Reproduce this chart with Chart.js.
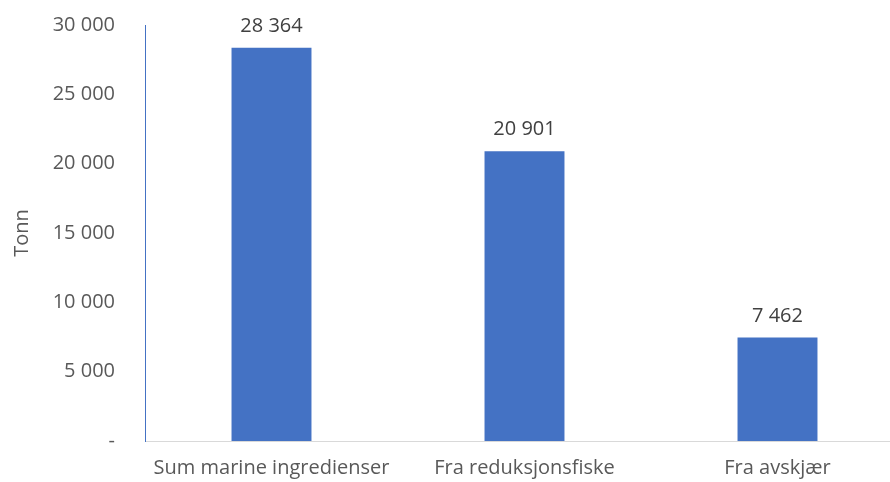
<!DOCTYPE html>
<html>
<head>
<meta charset="utf-8">
<script src="https://cdn.jsdelivr.net/npm/chart.js@4"></script>
<style>
  html, body { margin: 0; padding: 0; background: #fff; overflow: hidden; }
</style>
</head>
<body>
<canvas id="tonnChart" width="905" height="482"></canvas>
<script>
const categories = ["Sum marine ingredienser", "Fra reduksjonsfiske", "Fra avskjær"];
const tonnes = [28364, 20901, 7462];
const yTicks = [0, 5000, 10000, 15000, 20000, 25000, 30000];

const fontFamily = "'Open Sans', 'Noto Sans', sans-serif";

function fmt(v) {
  if (v === 0) return "-";
  return String(v).replace(/\B(?=(\d{3})+(?!\d))/g, " ");
}

// labels above each bar
const barLabels = {
  id: "barLabels",
  afterDatasetsDraw(chart) {
    const ctx = chart.ctx;
    const meta = chart.getDatasetMeta(0);
    ctx.save();
    ctx.font = "20px " + fontFamily;
    ctx.fillStyle = "#404040";
    ctx.textAlign = "center";
    ctx.textBaseline = "alphabetic";
    meta.data.forEach((bar, i) => {
      ctx.fillText(fmt(tonnes[i]), bar.x, bar.y - 16);
    });
    ctx.restore();
  }
};

const ctx = document.getElementById("tonnChart").getContext("2d");
new Chart(ctx, {
  type: "bar",
  data: {
    labels: categories,
    datasets: [{
      data: tonnes,
      backgroundColor: "#4472C4",
      barPercentage: 0.316,
      categoryPercentage: 1
    }]
  },
  options: {
    responsive: false,
    animation: false,
    layout: { padding: { top: 25, right: 1 } },
    plugins: {
      legend: { display: false },
      tooltip: { enabled: false }
    },
    scales: {
      x: {
        grid: { display: false, drawTicks: false },
        border: { display: true, color: "#d9d9d9", width: 1 },
        ticks: {
          color: "#595959",
          padding: 15,
          maxRotation: 0,
          font: { family: fontFamily, size: 20 }
        },
        afterFit(scale) { scale.height = 41; }
      },
      y: {
        min: 0,
        max: 30000,
        afterBuildTicks(scale) {
          scale.ticks = yTicks.map(v => ({ value: v }));
        },
        grid: { display: false, drawTicks: false },
        border: { display: true, color: "#4472C4", width: 1 },
        ticks: {
          color: "#595959",
          padding: 30,
          font: { family: fontFamily, size: 20 },
          callback: v => fmt(v)
        },
        title: {
          display: true,
          text: "Tonn",
          color: "#595959",
          padding: { top: 10, bottom: 4 },
          font: { family: fontFamily, size: 20 }
        },
        afterFit(scale) {
          scale.width = 145;
          scale.paddingTop = 0;
          scale.paddingBottom = 0;
        }
      }
    }
  },
  plugins: [barLabels]
});
</script>
</body>
</html>
